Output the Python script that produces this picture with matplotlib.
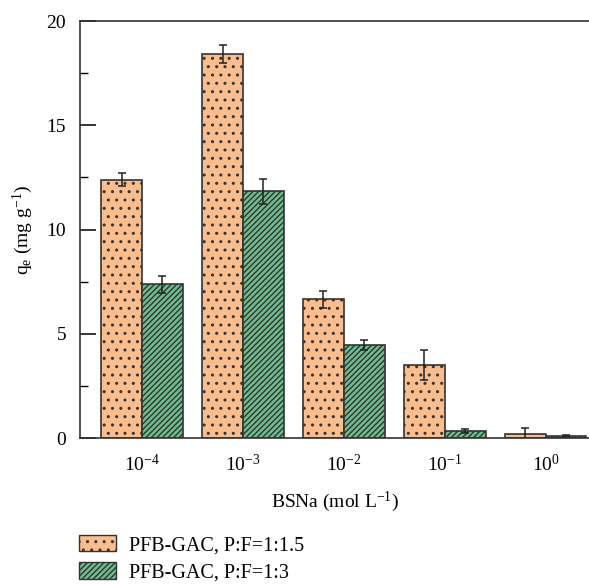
import matplotlib
matplotlib.use("Agg")
import matplotlib.pyplot as plt
import matplotlib.patches as mpatches
import numpy as np

plt.rcParams['font.family'] = ['Liberation Serif', 'DejaVu Serif']
plt.rcParams['mathtext.fontset'] = 'custom'
plt.rcParams['mathtext.rm'] = 'Liberation Serif'
plt.rcParams['mathtext.it'] = 'Liberation Serif'
plt.rcParams['hatch.linewidth'] = 1.0

# concentrations of BSNa (mol/L)
conc_labels = ['$10^{-4}$', '$10^{-3}$', '$10^{-2}$', '$10^{-1}$', '$10^{0}$']
series_names = ['PFB-GAC, P:F=1:1.5', 'PFB-GAC, P:F=1:3']
qe_15 = [12.4, 18.42, 6.65, 3.5, 0.2]
err_15 = [0.3, 0.42, 0.4, 0.73, 0.3]
qe_3 = [7.38, 11.85, 4.48, 0.35, 0.1]
err_3 = [0.4, 0.6, 0.25, 0.08, 0.03]

orange = '#F9BD8E'
green = '#6DBE8C'
edge = '#333333'
fs = 14

fig = plt.figure(figsize=(5.89, 5.85), dpi=100)
ax = fig.add_axes([0.136, 0.251, 0.864, 0.713])

x = np.arange(len(conc_labels))
w = 0.405
ax.bar(x - w / 2, qe_15, w, color=orange, edgecolor=edge, linewidth=1.2,
       hatch='..', yerr=err_15, capsize=3,
       error_kw=dict(ecolor='#222222', elinewidth=1.1, capthick=1.1))
ax.bar(x + w / 2, qe_3, w, color=green, edgecolor=edge, linewidth=1.2,
       hatch='//////', yerr=err_3, capsize=3,
       error_kw=dict(ecolor='#222222', elinewidth=1.1, capthick=1.1))

ax.set_xlim(-0.614, 4.43)
ax.set_ylim(0, 20)
ax.set_yticks([0, 5, 10, 15, 20])
ax.set_yticks(np.arange(0, 20, 2.5), minor=True)
ax.set_xticks(x)
ax.set_xticklabels(conc_labels)
ax.tick_params(axis='y', which='major', direction='in', length=11.5, width=1.1,
               labelsize=fs, pad=10)
ax.tick_params(axis='y', which='minor', direction='in', length=6, width=1.0)
ax.tick_params(axis='x', length=0, labelsize=fs, pad=11)
ax.spines['right'].set_visible(False)
for s in ['left', 'bottom', 'top']:
    ax.spines[s].set_linewidth(1.2)
    ax.spines[s].set_color('#333333')

ax.set_ylabel('q$_{\\mathrm{e}}$ (mg g$^{-1}$)', fontsize=fs, labelpad=8)
ax.set_xlabel('BSNa (mol L$^{-1}$)', fontsize=fs, labelpad=11)

handles = [
    mpatches.Patch(facecolor=orange, edgecolor=edge, hatch='..', label=series_names[0]),
    mpatches.Patch(facecolor=green, edgecolor=edge, hatch='//////', label=series_names[1]),
]
fig.legend(handles=handles, loc='upper left', bbox_to_anchor=(0.111, 0.11),
           frameon=False, fontsize=14.5, handlelength=1.8, handleheight=0.9,
           labelspacing=0.36, handletextpad=0.65, borderpad=0.2)

fig.savefig('out.png', dpi=100)
